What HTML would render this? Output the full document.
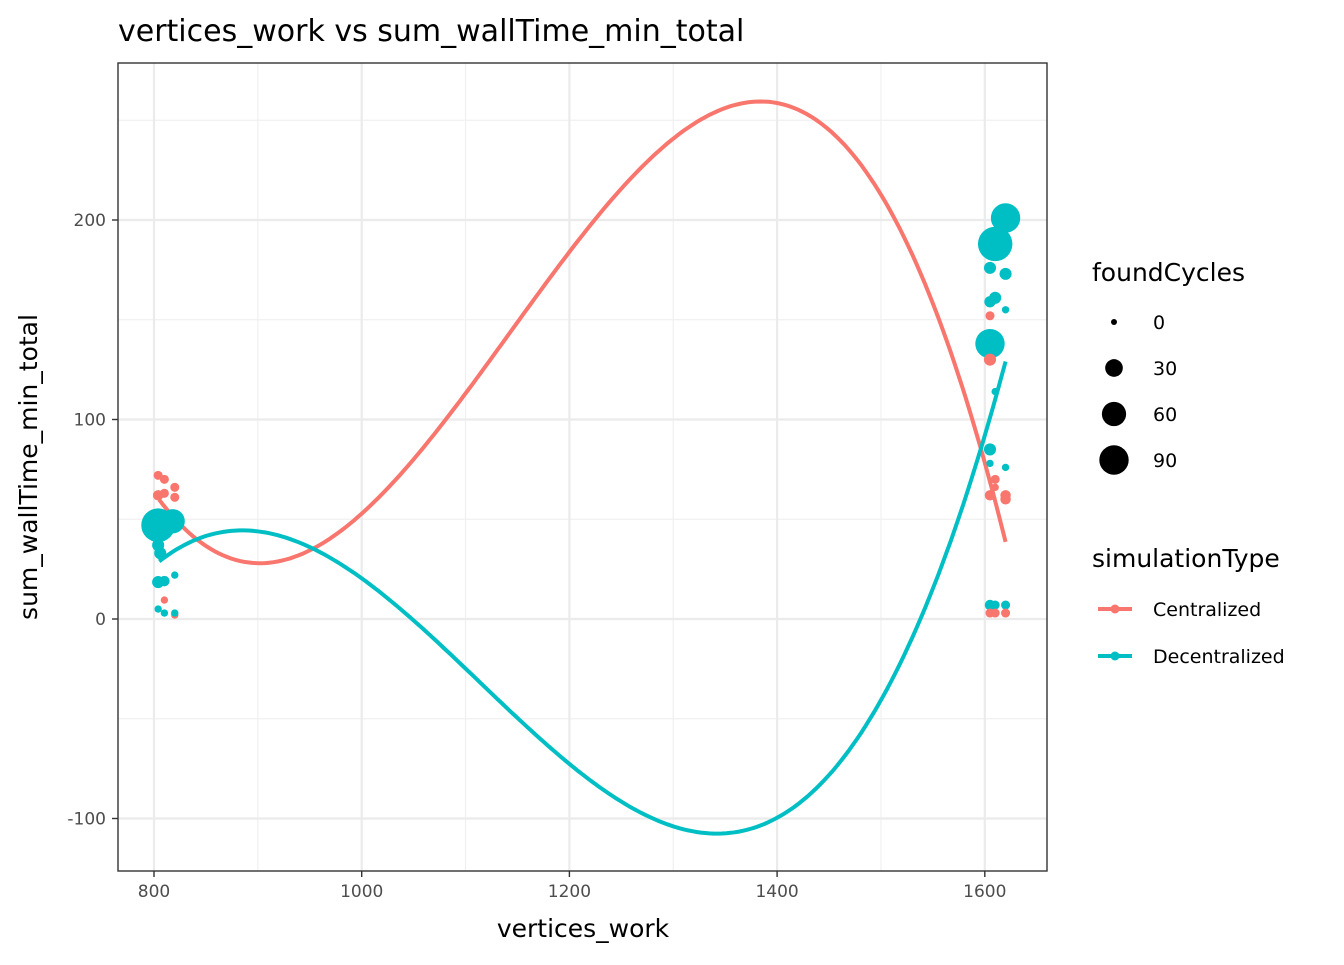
<!DOCTYPE html>
<html><head><meta charset="utf-8"><style>
body{margin:0;background:#fff;}
svg text{font-family:"DejaVu Sans","Liberation Sans",sans-serif;}
</style></head><body>
<svg id="chart" width="1344" height="960">
<text x="118" y="41" font-size="30" fill="#000">vertices_work  vs  sum_wallTime_min_total</text>
<g id="grid"></g>
<g id="lines"></g>
<g id="pts"></g>
<rect x="118" y="63" width="929" height="808" fill="none" stroke="#333" stroke-width="1.4"/>
<g id="axes"></g>
<text x="583" y="937" font-size="25" text-anchor="middle">vertices_work</text>
<text transform="translate(37,467) rotate(-90)" font-size="25" text-anchor="middle">sum_wallTime_min_total</text>
<g id="legend">
<text x="1092" y="281" font-size="25">foundCycles</text>
<text x="1092" y="567" font-size="25">simulationType</text>
</g>
</svg>
<script>
const xTicks=[800,1000,1200,1400,1600];
const xMinor=[900,1100,1300,1500];
const yTicks=[-100,0,100,200];
const yMinor=[-50,50,150,250];
const centX=[805,850,905,950,1000,1100,1200,1300,1383,1450,1500,1550,1600,1620];
const centY=[59,40,27,32,53,110,187,246,260,240,207,160,90,31];
const decX=[805,850,878,950,1000,1100,1200,1300,1337,1400,1450,1500,1550,1600,1620];
const decY=[33,41,42,30,20,-20,-70,-103,-108,-100,-80,-43,15,90,133];
const ptType=['C','C','C','C','C','C','C','C','D','D','D','D','D','D','D','D','D','D',
 'D','D','D','D','D','D','C','D','D','C','D','D','D','C','D','C','C','C','C','D','D','D','C','C','C'];
const ptX=[804,810,820,820,804,810,820,810,804,818,804,806,804,810,820,804,810,820,
 1620,1610,1605,1620,1610,1605,1605,1620,1605,1605,1610,1605,1605,1610,1620,1605,1620,1610,1620,1605,1610,1620,1605,1610,1620];
const ptY=[72,70,66,61,62,9.5,2,63,47,49,37,33,18.5,19,22,5,3,3,
 201,188,176,173,161,159,152,155,138,130,114,85,78,70,76,62,62,66,60,7,7,7,3,3,3];
const ptF=[5,5,5,5,8,2,2,5,120,60,12,12,12,8,2,2,2,2,
 90,125,12,12,12,10,5,2,90,12,2,12,2,5,2,8,8,2,8,8,5,5,5,5,5];
const sizeLegend=[0,30,60,90];
const colors={C:'#F8766D',D:'#00BFC4'};
const NS='http://www.w3.org/2000/svg';
const X=v=>154+(v-800)*1.0385, Y=v=>619-v*1.995;
const R=f=>Math.sqrt(9+2.3*f);
function mk(tag,attrs,parent){const e=document.createElementNS(NS,tag);for(const k in attrs)e.setAttribute(k,attrs[k]);document.getElementById(parent).appendChild(e);return e;}
xMinor.forEach(v=>{const l=mk('line',{x1:X(v),x2:X(v),y1:63,y2:871,stroke:'#f0f0f0','stroke-width':1.2},'grid');

});
yMinor.forEach(v=>{const l=mk('line',{x1:118,x2:1047,y1:Y(v),y2:Y(v),stroke:'#f0f0f0','stroke-width':1.2},'grid');

});
xTicks.forEach(v=>{const l=mk('line',{x1:X(v),x2:X(v),y1:63,y2:871,stroke:'#ebebeb','stroke-width':2.2},'grid');


const t=mk('line',{x1:X(v),x2:X(v),y1:871,y2:877,stroke:'#333','stroke-width':1.4},'axes');


const tx=mk('text',{x:X(v),y:897,'font-size':17,fill:'#4d4d4d','text-anchor':'middle'},'axes');tx.textContent=v;

});
yTicks.forEach(v=>{const l=mk('line',{x1:118,x2:1047,y1:Y(v),y2:Y(v),stroke:'#ebebeb','stroke-width':2.2},'grid');


const t=mk('line',{x1:112,x2:118,y1:Y(v),y2:Y(v),stroke:'#333','stroke-width':1.4},'axes');


const tx=mk('text',{x:106,y:Y(v)+6,'font-size':17,fill:'#4d4d4d','text-anchor':'end'},'axes');tx.textContent=v;

});
// least-squares cubic fit (like geom_smooth poly)
function fit(xs,ys){const n=4,A=[],b=[];const s=x=>(x-1200)/400;
for(let i=0;i<n;i++){A.push(new Array(n).fill(0));b.push(0);}
xs.forEach((x,k)=>{const t=s(x);const p=[1,t,t*t,t*t*t];for(let i=0;i<n;i++){b[i]+=p[i]*ys[k];for(let j=0;j<n;j++)A[i][j]+=p[i]*p[j];}});
for(let i=0;i<n;i++){let m=i;for(let r=i+1;r<n;r++)if(Math.abs(A[r][i])>Math.abs(A[m][i]))m=r;[A[i],A[m]]=[A[m],A[i]];[b[i],b[m]]=[b[m],b[i]];
for(let r=0;r<n;r++){if(r===i)continue;const f=A[r][i]/A[i][i];for(let c=i;c<n;c++)A[r][c]-=f*A[i][c];b[r]-=f*b[i];}}
const c=b.map((v,i)=>v/A[i][i]);return x=>{const t=s(x);return c[0]+c[1]*t+c[2]*t*t+c[3]*t*t*t;};}
function path(xs,ys){const f=fit(xs,ys);const x0=xs[0],x1=xs[xs.length-1];let d='';
for(let k=0;k<=200;k++){const x=x0+(x1-x0)*k/200;d+=(k?'L':'M')+X(x).toFixed(1)+','+Y(f(x)).toFixed(1);}return d;}
const lc=mk('path',{d:path(centX,centY),fill:'none',stroke:colors.C,'stroke-width':4},'lines');


const ld=mk('path',{d:path(decX,decY),fill:'none',stroke:colors.D,'stroke-width':4},'lines');


ptX.forEach((x,i)=>{const c=mk('circle',{cx:X(x),cy:Y(ptY[i]),r:R(ptF[i]),fill:colors[ptType[i]]},'pts');

});
sizeLegend.forEach((f,i)=>{const y=322+i*46;
const c=mk('circle',{cx:1114,cy:y,r:R(f),fill:'#000'},'legend');


const t=mk('text',{x:1153,y:y+7,'font-size':19},'legend');t.textContent=f;

});
[['C','Centralized',609],['D','Decentralized',656]].forEach(([k,lab,y])=>{
const l=mk('line',{x1:1098,x2:1132,y1:y,y2:y,stroke:colors[k],'stroke-width':4},'legend');


const c=mk('circle',{cx:1115,cy:y,r:4.5,fill:colors[k]},'legend');


const t=mk('text',{x:1153,y:y+7,'font-size':19},'legend');t.textContent=lab;

});
</script>
</body></html>
